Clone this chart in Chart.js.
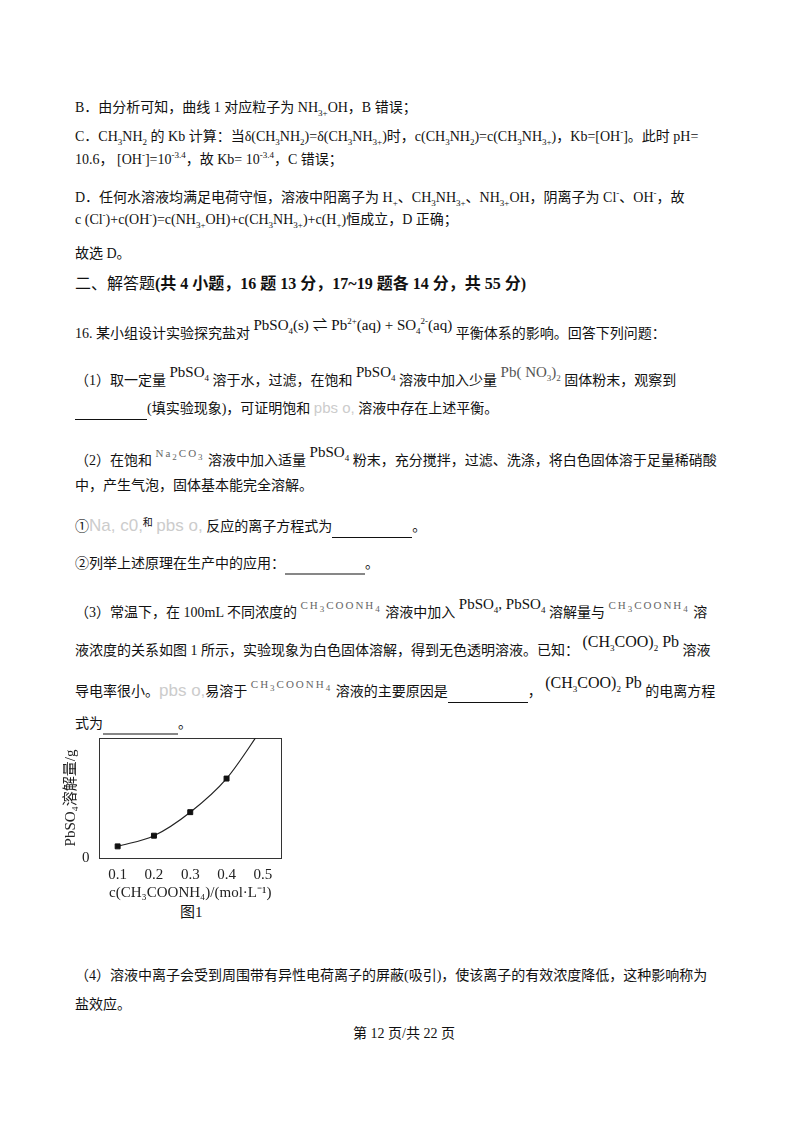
<!DOCTYPE html>
<html><head><meta charset="utf-8">
<script src="https://cdn.jsdelivr.net/npm/chart.js@4"></script>
<style>
body{margin:0;background:#fff;width:800px;height:1132px;position:relative;font-family:"Liberation Serif","Noto Sans CJK SC",serif;color:#111;font-size:14px;}
.l{position:absolute;left:75px;white-space:nowrap;line-height:20px;transform:translateY(-50%);}
sub,sup{font-size:9px;line-height:0}
.g{color:#ccc;font-family:"Liberation Sans",sans-serif;font-size:15px}
.f{font-size:15px;position:relative;top:-8px}
.m{font-size:11px;letter-spacing:2px;color:#666;position:relative;top:-8px}
u{text-decoration:none;border-bottom:1px solid #111;display:inline-block}
#wrap{position:absolute;left:62px;top:716px;width:251px;height:186px}
</style></head><body>
<div class="l" style="top:108px">B．由分析可知，曲线 1 对应粒子为 NH<sub>3+</sub>OH，B 错误；</div>
<div class="l" style="top:137px">C．CH<sub>3</sub>NH<sub>2</sub> 的 Kb 计算：当δ(CH<sub>3</sub>NH<sub>2</sub>)=δ(CH<sub>3</sub>NH<sub>3+</sub>)时，c(CH<sub>3</sub>NH<sub>2</sub>)=c(CH<sub>3</sub>NH<sub>3+</sub>)，Kb=[OH<sup>-</sup>]。此时 pH=</div>
<div class="l" style="top:160px">10.6，&nbsp;[OH<sup>-</sup>]=10<sup>-3.4</sup>，故 Kb= 10<sup>-3.4</sup>，C 错误；</div>
<div class="l" style="top:198px">D．任何水溶液均满足电荷守恒，溶液中阳离子为 H<sub>+</sub>、CH<sub>3</sub>NH<sub>3+</sub>、NH<sub>3+</sub>OH，阴离子为 Cl<sup>-</sup>、OH<sup>-</sup>，故</div>
<div class="l" style="top:220px">c (Cl<sup>-</sup>)+c(OH<sup>-</sup>)=c(NH<sub>3+</sub>OH)+c(CH<sub>3</sub>NH<sub>3+</sub>)+c(H<sub>+</sub>)恒成立，D 正确；</div>
<div class="l" style="top:254px">故选 D。</div>
<div class="l" style="top:284px;font-size:16px;font-weight:bold"><span style="font-weight:normal">二、解答题</span>(共 4 小题，16 题 13 分，17~19 题各 14 分，共 55 分)</div>
<div class="l" style="top:333px">16. 某小组设计实验探究盐对 <span class="f">PbSO<sub>4</sub>(s) ⇌ Pb<sup>2+</sup>(aq) + SO<sub>4</sub><sup>2-</sup>(aq)</span> 平衡体系的影响。回答下列问题：</div>
<div class="l" style="top:380px">（1）取一定量 <span class="f">PbSO<sub>4</sub></span> 溶于水，过滤，在饱和 <span class="f">PbSO<sub>4</sub></span> 溶液中加入少量 <span class="f" style="color:#555">Pb( NO<sub>3</sub>)<sub>2</sub></span> 固体粉末，观察到</div>
<div class="l" style="top:409px"><u style="width:72px">&nbsp;</u>(填实验现象)，可证明饱和 <span class="g">pbs o,</span> 溶液中存在上述平衡。</div>
<div class="l" style="top:460px">（2）在饱和 <span class="m">Na<sub>2</sub>CO<sub>3</sub></span> 溶液中加入适量 <span class="f">PbSO<sub>4</sub></span> 粉末，充分搅拌，过滤、洗涤，将白色固体溶于足量稀硝酸</div>
<div class="l" style="top:486px">中，产生气泡，固体基本能完全溶解。</div>
<div class="l" style="top:527px">①<span class="g" style="font-size:17px">Na, c0,</span><span style="font-size:10px;position:relative;top:-5px">和</span> <span class="g" style="font-size:17px">pbs o,</span> 反应的离子方程式为<u style="width:80px">&nbsp;</u>。</div>
<div class="l" style="top:564px">②列举上述原理在生产中的应用：<u style="width:80px">&nbsp;</u>。</div>
<div class="l" style="top:612px">（3）常温下，在 100mL 不同浓度的 <span class="m">CH<sub>3</sub>COONH<sub>4</sub></span> 溶液中加入 <span class="f">PbSO<sub>4</sub>, PbSO<sub>4</sub></span> 溶解量与 <span class="m">CH<sub>3</sub>COONH<sub>4</sub></span> 溶</div>
<div class="l" style="top:650px">液浓度的关系如图 1 所示，实验现象为白色固体溶解，得到无色透明溶液。已知： <span class="f" style="font-size:16px">(CH<sub>3</sub>COO)<sub>2</sub> Pb</span> 溶液</div>
<div class="l" style="top:692px">导电率很小。<span class="g" style="font-size:17px">pbs o,</span>易溶于 <span class="m">CH<sub>3</sub>COONH<sub>4</sub></span> 溶液的主要原因是<u style="width:80px">&nbsp;</u>， <span class="f" style="font-size:16px">(CH<sub>3</sub>COO)<sub>2</sub> Pb</span> 的电离方程</div>
<div class="l" style="top:724px">式为<u style="width:75px">&nbsp;</u>。</div>
<div id="wrap"><canvas id="c"></canvas></div>
<div class="l" style="top:912px;left:180px;font-size:15px">图1</div>
<div class="l" style="top:976px">（4）溶液中离子会受到周围带有异性电荷离子的屏蔽(吸引)，使该离子的有效浓度降低，这种影响称为</div>
<div class="l" style="top:1005px">盐效应。</div>
<div class="l" style="top:1034px;left:353px">第 12 页/共 22 页</div>
<script>
const xVals=[0.1,0.2,0.3,0.4];
const yVals=[0.97,1.86,3.82,6.62];
const curveX=[0.1,0.2,0.3,0.4,0.5];
const curveY=[0.97,1.86,3.82,6.62,10.9];
const xTicks=[0.1,0.2,0.3,0.4,0.5];
const font={family:'"Liberation Serif",serif',size:15};
new Chart(document.getElementById('c'),{
type:'scatter',
data:{datasets:[
{data:xVals.map((x,i)=>({x,y:yVals[i]})),pointStyle:'rect',pointRadius:3.5,backgroundColor:'#111',borderColor:'#111',showLine:false},
{data:curveX.map((x,i)=>({x,y:curveY[i]})),showLine:true,pointRadius:0,borderColor:'#222',borderWidth:1.2,tension:0.4,cubicInterpolationMode:'monotone'}
]},
options:{responsive:true,maintainAspectRatio:false,animation:false,
plugins:{legend:{display:false},tooltip:{enabled:false}},
layout:{padding:{top:14,right:24,bottom:0,left:0}},
scales:{
x:{type:'linear',min:0.05,max:0.55,afterBuildTicks:a=>{a.ticks=xTicks.map(v=>({value:v}))},
 grid:{display:false},border:{color:'#333',width:1},ticks:{color:'#222',font,padding:0,callback:v=>v.toFixed(1)},
 title:{display:true,text:'c(CH₃COONH₄)/(mol·L⁻¹)',color:'#222',font,padding:0}},
x2:{type:'linear',position:'top',min:0.05,max:0.55,grid:{display:false},border:{color:'#333'},ticks:{display:false}},
y:{min:0,max:10,afterBuildTicks:a=>{a.ticks=[{value:0}]},grid:{display:false},border:{color:'#333'},ticks:{color:'#222',font,padding:2},
 title:{display:true,text:'PbSO₄溶解量/g',color:'#222',font:{family:'"Liberation Serif","Noto Sans CJK SC",serif',size:15},padding:0}},
y2:{position:'right',min:0,max:10,grid:{display:false},border:{color:'#333'},ticks:{display:false}}
}}});
</script>
</body></html>
